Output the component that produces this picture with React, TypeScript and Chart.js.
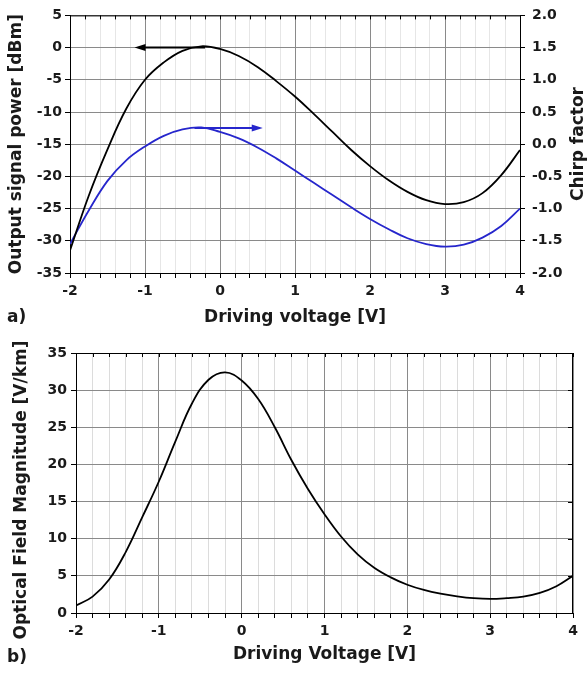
import React, { useEffect, useRef } from 'react';
import { Chart, registerables } from 'chart.js';

Chart.register(...registerables);

// ---- data ----
const voltage = [-2, -1.75, -1.5, -1.25, -1, -0.75, -0.5, -0.25, 0, 0.25, 0.5, 0.75, 1, 1.25, 1.5, 1.75, 2, 2.25, 2.5, 2.75, 3, 3.25, 3.5, 3.75, 4];
const outputPowerDbm = [-31.5, -23.0, -15.8, -9.5, -5.0, -2.3, -0.5, 0.2, -0.2, -1.3, -3.0, -5.2, -7.6, -10.3, -13.1, -15.9, -18.4, -20.6, -22.4, -23.7, -24.3, -24.0, -22.6, -19.8, -15.9];
const chirpFactor = [-1.55, -1.03, -0.57, -0.25, -0.035, 0.13, 0.23, 0.26, 0.19, 0.09, -0.05, -0.22, -0.41, -0.6, -0.79, -0.98, -1.16, -1.32, -1.46, -1.55, -1.59, -1.56, -1.45, -1.27, -1.0];

const fieldVoltage = [-2, -1.8, -1.6, -1.4, -1.2, -1, -0.8, -0.6, -0.4, -0.2, 0, 0.2, 0.4, 0.6, 0.8, 1, 1.2, 1.4, 1.6, 1.8, 2, 2.2, 2.4, 2.6, 2.8, 3, 3.2, 3.4, 3.6, 3.8, 4];
const fieldMagnitude = [1.0, 2.2, 4.5, 8.2, 12.9, 17.7, 23.1, 28.2, 31.4, 32.4, 31.3, 28.8, 25.0, 20.6, 16.7, 13.3, 10.3, 7.9, 6.1, 4.8, 3.8, 3.1, 2.6, 2.25, 2.0, 1.9, 2.0, 2.2, 2.7, 3.6, 5.0];

const xMajorLabels = ['-2', '-1', '0', '1', '2', '3', '4'];
const powerTickLabels = ['5', '0', '-5', '-10', '-15', '-20', '-25', '-30', '-35'];
const chirpTickLabels = ['2.0', '1.5', '1.0', '0.5', '0.0', '-0.5', '-1.0', '-1.5', '-2.0'];
const fieldTickLabels = ['35', '30', '25', '20', '15', '10', '5', '0'];

// arrows (data coordinates): [from, to]
const powerArrowX = [-0.2, -1.14];
const powerArrowY = 0;
const chirpArrowX = [-0.34, 0.57];
const chirpArrowY = 0.25;

// ---- styles ----
const FONT = "'DejaVu Sans', 'Liberation Sans', sans-serif";
const TEXT = '#1a1a1a';
const BLUE = '#2626cc';
const MAJOR_GRID = '#8a8a8a';

const isMajor = (v: number) => Math.abs(v - Math.round(v)) < 1e-6;
const pts = (xs: number[], ys: number[]) => xs.map((x, i) => ({ x, y: ys[i] }));

const framePlugin = {
  id: 'frame',
  afterDatasetsDraw(chart: any, _args: any, opts: any) {
    const { ctx, chartArea: a, scales } = chart;
    ctx.save();
    ctx.strokeStyle = '#000';
    ctx.lineWidth = 1;
    ctx.beginPath();
    ctx.moveTo(a.left, a.top + 0.5);
    ctx.lineTo(a.right, a.top + 0.5);
    scales.x.ticks.forEach((t: any) => {
      const px = Math.round(scales.x.getPixelForValue(t.value)) + 0.5;
      ctx.moveTo(px, a.top);
      ctx.lineTo(px, a.top + 4);
    });
    if (opts && opts.rightBorder) {
      ctx.moveTo(a.right - 0.5, a.top);
      ctx.lineTo(a.right - 0.5, a.bottom);
      scales.y.ticks.forEach((t: any) => {
        const py = Math.round(scales.y.getPixelForValue(t.value)) + 0.5;
        ctx.moveTo(a.right, py);
        ctx.lineTo(a.right - 5, py);
      });
    }
    ctx.stroke();
    ctx.restore();
  },
};

const arrowPlugin = {
  id: 'arrows',
  afterDatasetsDraw(chart: any, _args: any, opts: any) {
    if (!opts || !opts.items) return;
    const { ctx, scales } = chart;
    opts.items.forEach((it: any) => {
      const ys = scales[it.axis];
      const x0 = scales.x.getPixelForValue(it.xs[0]);
      const x1 = scales.x.getPixelForValue(it.xs[1]);
      const y = ys.getPixelForValue(it.y);
      const dir = Math.sign(x1 - x0);
      ctx.save();
      ctx.strokeStyle = it.color;
      ctx.fillStyle = it.color;
      ctx.lineWidth = 2;
      ctx.beginPath();
      ctx.moveTo(x0, y);
      ctx.lineTo(x1 - dir * 8, y);
      ctx.stroke();
      ctx.beginPath();
      ctx.moveTo(x1, y);
      ctx.lineTo(x1 - dir * 11, y - 3.5);
      ctx.lineTo(x1 - dir * 11, y + 3.5);
      ctx.closePath();
      ctx.fill();
      ctx.restore();
    });
  },
};

const textPlugin = {
  id: 'extraText',
  afterDraw(chart: any, _args: any, opts: any) {
    if (!opts || !opts.items) return;
    const { ctx } = chart;
    opts.items.forEach((it: any) => {
      ctx.save();
      ctx.fillStyle = TEXT;
      ctx.font = `bold ${it.size}px ${FONT}`;
      ctx.textBaseline = 'middle';
      ctx.textAlign = it.align || 'center';
      ctx.translate(it.x, it.y);
      if (it.rotate) ctx.rotate(it.rotate);
      ctx.fillText(it.text, 0, 0);
      ctx.restore();
    });
  },
};

const tickFont = { family: FONT, size: 14, weight: 'bold' as const };
const titleFont = { family: FONT, size: 17, weight: 'bold' as const };

function xAxis(title: string, height: number, titlePadBottom: number, minorGrid: string) {
  return {
    type: 'linear',
    min: -2,
    max: 4,
    afterFit: (s: any) => { s.height = height; },
    ticks: {
      stepSize: 0.2,
      autoSkip: false,
      maxRotation: 0,
      padding: 5,
      color: TEXT,
      font: tickFont,
      callback: (v: number) => (isMajor(v) ? xMajorLabels[Math.round(v) + 2] : ''),
    },
    grid: {
      color: (c: any) => (c.tick && isMajor(c.tick.value) ? MAJOR_GRID : minorGrid),
      tickColor: '#000',
      tickLength: 5,
    },
    border: { color: '#000', width: 1 },
    title: { display: true, text: title, color: TEXT, font: titleFont, padding: { top: 0, bottom: titlePadBottom } },
  };
}

const lineStyle = { pointRadius: 0, borderWidth: 1.8, tension: 0.4 };

function topConfig(): any {
  return {
    type: 'line',
    data: {
      datasets: [
        { label: 'Output signal power', data: pts(voltage, outputPowerDbm), yAxisID: 'y', borderColor: '#000', ...lineStyle },
        { label: 'Chirp factor', data: pts(voltage, chirpFactor), yAxisID: 'y1', borderColor: BLUE, ...lineStyle },
      ],
    },
    options: {
      responsive: false,
      animation: false,
      layout: { padding: { top: 13, left: 0, right: 0, bottom: 0 } },
      scales: {
        x: xAxis('Driving voltage [V]', 57, 2, '#e6e6e6'),
        y: {
          type: 'linear',
          position: 'left',
          min: -35,
          max: 5,
          afterFit: (s: any) => { s.width = 70; },
          ticks: {
            stepSize: 5,
            padding: 3,
            color: TEXT,
            font: tickFont,
            callback: (v: number) => powerTickLabels[Math.round((5 - v) / 5)],
          },
          grid: { color: MAJOR_GRID, tickColor: '#000', tickLength: 5 },
          border: { color: '#000', width: 1 },
          title: { display: true, text: 'Output signal power [dBm]', color: TEXT, font: titleFont, padding: { top: 6, bottom: 0 } },
        },
        y1: {
          type: 'linear',
          position: 'right',
          min: -2,
          max: 2,
          afterFit: (s: any) => { s.width = 67; },
          ticks: {
            stepSize: 0.5,
            padding: 7,
            color: TEXT,
            font: tickFont,
            callback: (v: number) => chirpTickLabels[Math.round((2 - v) / 0.5)],
          },
          grid: { drawOnChartArea: false, tickColor: '#000', tickLength: 5 },
          border: { color: '#000', width: 1 },
        },
      },
      plugins: {
        legend: { display: false },
        tooltip: { enabled: false },
        frame: { rightBorder: false },
        arrows: {
          items: [
            { xs: powerArrowX, y: powerArrowY, axis: 'y', color: '#000' },
            { xs: chirpArrowX, y: chirpArrowY, axis: 'y1', color: BLUE },
          ],
        },
        extraText: {
          items: [
            { text: 'Chirp factor', x: 579, y: 144, rotate: -Math.PI / 2, size: 17 },
            { text: 'a)', x: 7, y: 318, align: 'left', size: 17 },
          ],
        },
      },
    },
    plugins: [framePlugin, arrowPlugin, textPlugin],
  };
}

function bottomConfig(): any {
  return {
    type: 'line',
    data: {
      datasets: [
        { label: 'Optical Field Magnitude', data: pts(fieldVoltage, fieldMagnitude), borderColor: '#000', ...lineStyle },
      ],
    },
    options: {
      responsive: false,
      animation: false,
      layout: { padding: { top: 23, left: 0, right: 14, bottom: 0 } },
      scales: {
        x: xAxis('Driving Voltage [V]', 61, 9, '#dcdcdc'),
        y: {
          type: 'linear',
          position: 'left',
          min: 0,
          max: 35,
          afterFit: (s: any) => { s.width = 76; },
          ticks: {
            stepSize: 5,
            padding: 4,
            color: TEXT,
            font: tickFont,
            callback: (v: number) => fieldTickLabels[Math.round((35 - v) / 5)],
          },
          grid: { color: MAJOR_GRID, tickColor: '#000', tickLength: 5 },
          border: { color: '#000', width: 1 },
        },
      },
      plugins: {
        legend: { display: false },
        tooltip: { enabled: false },
        frame: { rightBorder: true },
        extraText: {
          items: [
            { text: 'Optical Field Magnitude [V/km]', x: 22, y: 160, rotate: -Math.PI / 2, size: 17 },
            { text: 'b)', x: 7, y: 328, align: 'left', size: 17 },
          ],
        },
      },
    },
    plugins: [framePlugin, textPlugin],
  };
}

export default function App() {
  const topRef = useRef<HTMLCanvasElement>(null);
  const bottomRef = useRef<HTMLCanvasElement>(null);

  useEffect(() => {
    const top = new Chart(topRef.current as HTMLCanvasElement, topConfig());
    const bottom = new Chart(bottomRef.current as HTMLCanvasElement, bottomConfig());
    return () => {
      top.destroy();
      bottom.destroy();
    };
  }, []);

  return (
    <div style={{ position: 'absolute', left: 0, top: 0, width: 587, height: 674, background: '#fff' }}>
      <canvas ref={topRef} width={587} height={330} style={{ position: 'absolute', left: 0, top: 0, width: 587, height: 330 }} />
      <canvas ref={bottomRef} width={587} height={344} style={{ position: 'absolute', left: 0, top: 330, width: 587, height: 344 }} />
    </div>
  );
}
